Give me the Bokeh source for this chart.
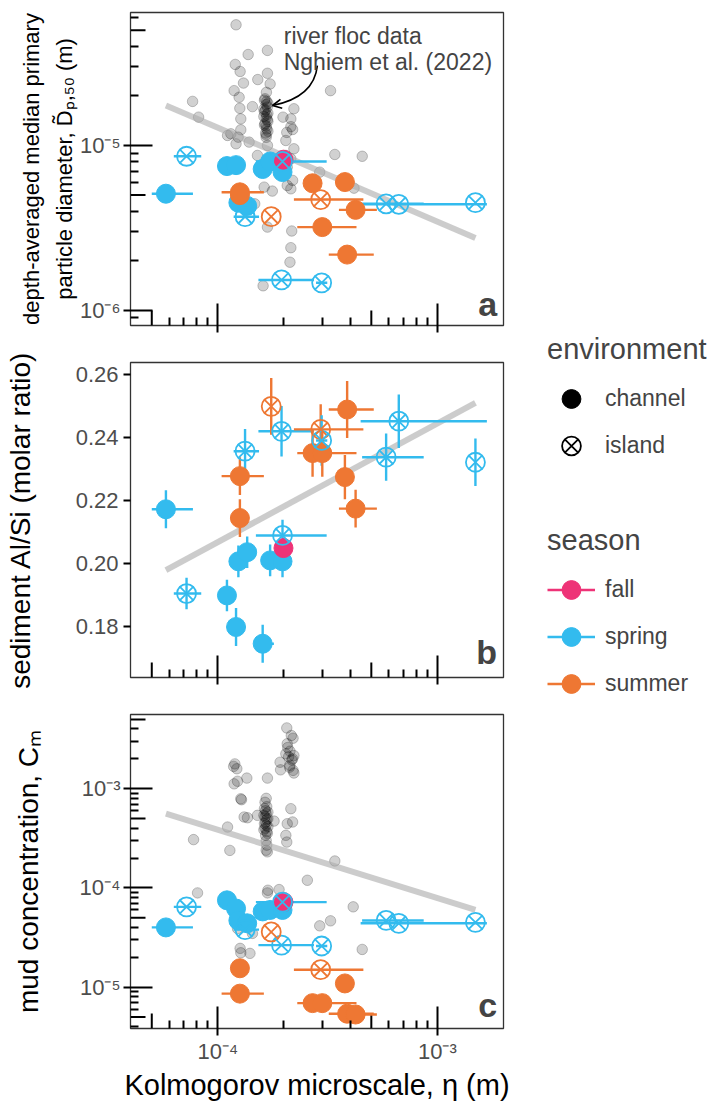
from math import pi
from bokeh.plotting import figure
from bokeh.models import (ColumnDataSource, FixedTicker, Label, LogAxis,
                          Legend, LegendItem, NumeralTickFormatter, Arrow, OpenHead,
                          Range1d, CDSView, GroupFilter, CustomJSTickFormatter)
from bokeh.layouts import row, column
from bokeh.transform import factor_cmap
from bokeh.embed import file_html
from bokeh.resources import INLINE

FONT = "Liberation Sans"

# ---------------- data: samples (this study) ----------------
season = ["spring", "spring", "spring", "spring", "spring", "spring", "spring", "spring", "spring",
          "fall", "spring", "spring", "spring", "summer", "summer", "summer", "summer", "spring",
          "summer", "summer", "summer", "summer", "summer", "spring", "spring", "spring"]
environment = ["channel", "island", "channel", "channel", "channel", "channel", "channel", "channel",
               "channel", "channel", "island", "island", "island", "island", "channel", "channel",
               "island", "island", "channel", "channel", "channel", "channel", "channel", "island",
               "island", "island"]
eta = [5.8e-5, 7.2e-5, 1.1e-4, 1.21e-4, 1.6e-4, 1.24e-4, 1.36e-4, 1.73e-4, 1.97e-4, 1.99e-4,
       1.97e-4, 1.33e-4, 1.95e-4, 1.75e-4, 1.26e-4, 1.26e-4, 2.94e-4, 2.97e-4, 2.7e-4, 2.99e-4,
       3.88e-4, 3.79e-4, 4.24e-4, 5.84e-4, 6.67e-4, 1.49e-3]
eta_lo = [5.0e-5, 6.3e-5, 1.1e-4, 1.21e-4, 1.46e-4, 1.24e-4, 1.36e-4, 1.73e-4, 1.97e-4, 1.99e-4,
          1.49e-4, 1.18e-4, 1.53e-4, 1.75e-4, 1.04e-4, 1.26e-4, 2.22e-4, 2.8e-4, 2.7e-4, 2.3e-4,
          3.2e-4, 3.79e-4, 3.56e-4, 4.54e-4, 4.47e-4, 1.49e-3]
eta_hi = [7.7e-5, 8.4e-5, 1.1e-4, 1.21e-4, 1.8e-4, 1.24e-4, 1.36e-4, 1.73e-4, 1.97e-4, 1.99e-4,
          3.13e-4, 1.54e-4, 2.74e-4, 1.75e-4, 1.62e-4, 1.26e-4, 4.6e-4, 3.15e-4, 2.7e-4, 4.28e-4,
          5.13e-4, 3.79e-4, 5.3e-4, 8.66e-4, 1.68e-3, 1.49e-3]
d_p50 = [5.1e-6, 8.6e-6, 7.5e-6, 7.6e-6, 7.2e-6, 4.5e-6, 4.3e-6, 8.0e-6, 6.9e-6, 8.2e-6,
         8.0e-6, 3.7e-6, 1.53e-6, 3.7e-6, 5.2e-6, 5.0e-6, 4.7e-6, 1.47e-6, 5.9e-6, 3.2e-6,
         2.18e-6, 6.0e-6, 4.07e-6, 4.43e-6, 4.4e-6, 4.5e-6]
al_si = [0.2173, 0.1906, 0.190, 0.180, 0.1747, 0.2008, 0.2037, 0.2011, 0.2008, 0.205,
         0.209, 0.2357, 0.2420, 0.2499, 0.2278, 0.2145, 0.2426, 0.2391, 0.2351, 0.2351,
         0.2489, 0.2275, 0.2175, 0.2338, 0.2452, 0.2322]
al_si_err = [0.006, 0.005, 0.005, 0.006, 0.006, 0.005, 0.005, 0.005, 0.005, 0.003,
             0.005, 0.007, 0.008, 0.009, 0.006, 0.006, 0.008, 0.008, 0.0075, 0.0075,
             0.009, 0.007, 0.006, 0.0075, 0.0085, 0.0075]
c_mud = [4.0e-5, 6.45e-5, 7.5e-5, 6.2e-5, 5.8e-5, 4.7e-5, 4.4e-5, 6.0e-5, 6.0e-5, 7.2e-5,
         7.2e-5, 3.8e-5, 2.65e-5, 3.6e-5, 8.6e-6, 1.55e-5, 1.5e-5, 2.6e-5, 6.9e-6, 6.9e-6,
         5.4e-6, 1.09e-5, 5.3e-6, 4.7e-5, 4.4e-5, 4.5e-5]

# ---------------- data: river floc (Nghiem et al. 2022) ----------------
floc_eta_a = [1.21e-4, 1.374e-4, 1.682e-4, 1.2e-4, 1.263e-4, 1.682e-4, 1.308e-4, 1.52e-4, 1.73e-4,
              1.186e-4, 1.25e-4, 1.664e-4, 3.26e-4, 7.67e-5, 1.259e-4, 1.437e-4, 8.17e-5, 1.272e-4,
              2.22e-4, 1.98e-4, 2.15e-4, 2.15e-4, 1.272e-4, 1.146e-4, 1.107e-4, 1.237e-4, 2.06e-4,
              1.388e-4, 1.21e-4, 1.682e-4, 2.04e-4, 2.22e-4, 1.515e-4, 3.41e-4, 4.545e-4, 2.04e-4,
              2.15e-4, 2.07e-4, 2.91e-4, 2.19e-4, 2.07e-4, 2.15e-4, 1.625e-4, 1.77e-4, 4.17e-4,
              1.472e-4, 1.682e-4, 2.17e-4, 2.15e-4, 2.13e-4, 1.607e-4, 2.19e-4,
              1.64e-4, 1.67e-4, 1.66e-4, 1.68e-4, 1.65e-4, 1.63e-4, 1.67e-4, 1.66e-4, 1.68e-4,
              1.64e-4, 1.66e-4, 1.67e-4, 1.65e-4, 1.66e-4,
              1.63e-4, 1.69e-4, 1.62e-4, 1.69e-4, 1.62e-4, 1.69e-4, 1.63e-4, 1.69e-4, 1.66e-4]
floc_d_a = [5.39e-5, 3.56e-5, 3.77e-5, 3.1e-5, 2.81e-5, 2.74e-5, 2.39e-5, 2.51e-5, 2.36e-5,
            2.15e-5, 1.96e-5, 2.1e-5, 2.15e-5, 1.85e-5, 1.68e-5, 1.72e-5, 1.485e-5, 1.45e-5,
            1.67e-5, 1.485e-5, 1.45e-5, 1.30e-5, 1.245e-5, 1.177e-5, 1.15e-5, 1.123e-5, 1.2e-5,
            1.048e-5, 1.024e-5, 1.0e-5, 1.072e-5, 9.55e-6, 8.7e-6, 8.82e-6, 8.6e-6, 8.7e-6,
            8.3e-6, 7.39e-6, 6.89e-6, 6.14e-6, 5.72e-6, 5.46e-6, 5.59e-6, 5.29e-6, 5.51e-6,
            4.43e-6, 3.2e-6, 3.03e-6, 2.4e-6, 1.96e-6, 1.41e-6, 1.25e-5,
            1.92e-5, 1.85e-5, 1.77e-5, 1.71e-5, 1.64e-5, 1.6e-5, 1.53e-5, 1.47e-5, 1.43e-5,
            1.36e-5, 1.31e-5, 1.26e-5, 1.19e-5, 1.12e-5,
            1.88e-5, 1.8e-5, 1.66e-5, 1.57e-5, 1.5e-5, 1.4e-5, 1.33e-5, 1.22e-5, 1.16e-5]
floc_eta_c = [2.06e-4, 2.16e-4, 2.2e-4, 2.07e-4, 2.13e-4, 2.04e-4, 2.22e-4, 2.19e-4, 1.92e-4,
              2.13e-4, 1.93e-4, 2.2e-4, 2.22e-4, 1.195e-4, 1.18e-4, 1.22e-4, 1.186e-4, 1.229e-4,
              1.355e-4, 1.682e-4, 1.272e-4, 1.281e-4, 1.317e-4, 1.364e-4, 1.515e-4, 1.803e-4,
              2.15e-4, 2.07e-4, 2.19e-4, 2.04e-4, 2.06e-4, 1.107e-4, 7.75e-5, 1.134e-4,
              1.66e-4, 1.64e-4, 1.67e-4, 1.65e-4, 1.66e-4, 1.64e-4, 1.67e-4, 1.65e-4, 1.66e-4,
              1.64e-4, 1.67e-4, 1.65e-4, 1.66e-4, 1.67e-4, 1.66e-4, 1.68e-4,
              3.41e-4, 2.556e-4, 1.69e-4, 1.682e-4, 1.9e-4, 8.08e-5, 4.135e-4, 2.91e-4, 3.26e-4,
              4.545e-4, 1.263e-4, 1.272e-4, 1.4e-4, 1.229e-4, 1.437e-4,
              1.63e-4, 1.69e-4, 1.62e-4, 1.69e-4, 1.63e-4, 1.69e-4, 1.62e-4, 1.68e-4,
              2.1e-4, 2.17e-4, 2.08e-4, 2.12e-4]
floc_c = [4.1e-3, 3.44e-3, 3.23e-3, 2.84e-3, 2.39e-3, 2.25e-3, 2.16e-3, 2.0e-3, 1.85e-3,
          1.72e-3, 1.55e-3, 1.53e-3, 1.44e-3, 1.78e-3, 1.68e-3, 1.59e-3, 1.12e-3, 1.19e-3,
          1.28e-3, 1.28e-3, 7.93e-4, 7.75e-4, 5.19e-4, 5.1e-4, 5.39e-4, 4.72e-4,
          6.29e-4, 4.44e-4, 4.62e-4, 3.39e-4, 2.9e-4, 4.11e-4, 3.07e-4, 2.39e-4,
          8.0e-4, 7.3e-4, 6.6e-4, 6.0e-4, 5.6e-4, 5.2e-4, 4.9e-4, 4.6e-4, 4.3e-4,
          4.0e-4, 3.7e-4, 3.4e-4, 3.0e-4, 2.7e-4, 2.4e-4, 2.31e-4,
          1.87e-4, 1.195e-4, 9.48e-5, 8.91e-5, 9.63e-5, 8.91e-5, 6.45e-5, 4.15e-5, 4.66e-5,
          2.4e-5, 2.46e-5, 2.22e-5, 2.19e-5, 3.9e-5, 3.48e-5,
          6.3e-4, 5.8e-4, 5.4e-4, 5.0e-4, 4.45e-4, 4.15e-4, 3.85e-4, 3.55e-4,
          2.1e-3, 1.95e-3, 2.6e-3, 1.65e-3]

# ---------------- data: regression lines ----------------
fit_eta = [5.8e-5, 1.49e-3]
fit_d = [1.75e-5, 2.75e-6]
fit_alsi = [0.198, 0.251]
fit_c = [5.6e-4, 6.0e-5]

# ---------------- ticks ----------------
x_decades = [1e-4, 1e-3]
x_mids = [5e-5, 5e-4]
x_minors = [6e-5, 7e-5, 8e-5, 9e-5, 2e-4, 3e-4, 4e-4, 6e-4, 7e-4, 8e-4, 9e-4]
a_decades = [1e-6, 1e-5]
a_mids = [5e-6, 5e-5]
a_minors = [9e-7, 2e-6, 3e-6, 4e-6, 6e-6, 7e-6, 8e-6, 9e-6, 2e-5, 3e-5, 4e-5, 6e-5]
b_ticks = [0.18, 0.20, 0.22, 0.24, 0.26]
c_decades = [1e-5, 1e-4, 1e-3]
c_mids = [5e-6, 5e-5, 5e-4, 5e-3]
c_minors = [4e-6, 6e-6, 7e-6, 8e-6, 9e-6, 2e-5, 3e-5, 4e-5, 6e-5, 7e-5, 8e-5, 9e-5,
            2e-4, 3e-4, 4e-4, 6e-4, 7e-4, 8e-4, 9e-4, 2e-3, 3e-3, 4e-3]

seasons = ["fall", "spring", "summer"]
season_colors = ["#EE3377", "#33BBEE", "#EE7733"]

X_RANGE = (4e-5, 2e-3)
A_RANGE = (8.1e-7, 6.4e-5)
B_RANGE = (0.164, 0.2638)
C_RANGE = (3.83e-6, 5.6e-3)

POW10_JS = """
const sup = {"0": "\u2070", "1": "\u00b9", "2": "\u00b2", "3": "\u00b3", "4": "\u2074",
             "5": "\u2075", "6": "\u2076", "7": "\u2077", "8": "\u2078", "9": "\u2079",
             "-": "\u207b"};
const e = Math.round(Math.log10(tick));
return "10" + String(e).split("").map((c) => sup[c]).join("");
"""
BLANK_JS = "return '';"

src = ColumnDataSource(dict(eta=eta, eta_lo=eta_lo, eta_hi=eta_hi, d=d_p50, alsi=al_si,
                            alsi_lo=[v - e for v, e in zip(al_si, al_si_err)],
                            alsi_hi=[v + e for v, e in zip(al_si, al_si_err)],
                            c=c_mud, season=season, env=environment))
cmap = factor_cmap("season", season_colors, seasons)
ch_view = CDSView(filter=GroupFilter(column_name="env", group="channel"))
is_view = CDSView(filter=GroupFilter(column_name="env", group="island"))


def style_axis(ax):
    ax.axis_line_color = None
    ax.major_tick_line_color = "black"
    ax.major_tick_line_width = 2
    ax.minor_tick_line_color = "black"
    ax.minor_tick_line_width = 2
    ax.major_label_text_font = FONT
    ax.major_label_text_font_size = "22px"
    ax.major_label_text_color = "#4d4d4d"
    ax.axis_label_text_font = FONT
    ax.axis_label_text_font_style = "normal"
    ax.axis_label_text_color = "black"


def base_fig(height, y_type, y_range, border_bottom):
    p = figure(width=520, height=height, x_axis_type="log", y_axis_type=y_type,
               x_range=Range1d(*X_RANGE), y_range=Range1d(*y_range),
               toolbar_location=None, output_backend="svg",
               min_border_left=130, min_border_right=17, min_border_top=12,
               min_border_bottom=border_bottom)
    p.grid.visible = False
    p.outline_line_color = "#333333"
    p.outline_line_width = 1.3
    for ax in p.axis:
        style_axis(ax)
    return p


def log_axis_ticks(p, ax, dim, decades, mids, minors, edge, labels=True):
    ax.ticker = FixedTicker(ticks=decades, minor_ticks=minors)
    ax.formatter = CustomJSTickFormatter(code=POW10_JS if labels else BLANK_JS)
    if not labels:
        ax.major_label_text_font_size = "2px"
        ax.major_label_standoff = 0
    else:
        ax.major_label_standoff = 3
    ax.major_tick_in = 22
    ax.major_tick_out = 7
    ax.minor_tick_in = 8
    ax.minor_tick_out = 0
    # medium-length log ticks at the 5x positions, starting at the frame edge
    if dim == "x":
        p.ray(x=mids, y=[edge] * len(mids), length=15, length_units="screen",
              angle=pi / 2, line_color="black", line_width=2)
    else:
        p.ray(x=[edge] * len(mids), y=mids, length=15, length_units="screen",
              angle=0, line_color="black", line_width=2)


def add_points(p, ycol, yerr=False):
    p.segment(x0="eta_lo", y0=ycol, x1="eta_hi", y1=ycol, source=src, color=cmap, line_width=2.4)
    if yerr:
        p.segment(x0="eta", y0="alsi_lo", x1="eta", y1="alsi_hi", source=src, color=cmap,
                  line_width=2.4)
    p.scatter(x="eta", y=ycol, source=src, view=ch_view, marker="circle", size=19,
              fill_color=cmap, line_color=cmap)
    p.scatter(x="eta", y=ycol, source=src, view=is_view, marker="circle", size=19,
              fill_color=None, line_color=cmap, line_width=1.8)
    p.scatter(x="eta", y=ycol, source=src, view=is_view, marker="x", size=20,
              line_color=cmap, line_width=1.8)


def floc(p, xs, ys):
    p.scatter(xs, ys, marker="circle", size=10.5, fill_color="black", fill_alpha=0.18,
              line_color="black", line_alpha=0.22, line_width=1)


def panel_letter(p, x, y, txt):
    p.add_layout(Label(x=x, y=y, text=txt, text_font=FONT, text_font_size="34px",
                       text_font_style="bold", text_align="right", text_baseline="alphabetic"))


# ---------------- panel a ----------------
pa = base_fig(350, "log", A_RANGE, 25)
log_axis_ticks(pa, pa.xaxis[0], "x", x_decades, x_mids, x_minors, A_RANGE[0], labels=False)
log_axis_ticks(pa, pa.yaxis[0], "y", a_decades, a_mids, a_minors, X_RANGE[0])
pa.yaxis[0].axis_label = "particle diameter, D\u0303\u209a,\u2085\u2080 (m)"
pa.yaxis[0].axis_label_text_font_size = "22px"
pa.yaxis[0].axis_label_standoff = 0
ya_outer = LogAxis(ticker=FixedTicker(ticks=[], minor_ticks=[]),
                   axis_label="depth-averaged median primary")
style_axis(ya_outer)
ya_outer.major_tick_in = 0
ya_outer.major_tick_out = 0
ya_outer.minor_tick_in = 0
ya_outer.minor_tick_out = 0
ya_outer.major_label_standoff = 0
ya_outer.axis_label_standoff = 5
ya_outer.axis_label_text_font_size = "22px"
pa.add_layout(ya_outer, "left")
floc(pa, floc_eta_a, floc_d_a)
pa.line(fit_eta, fit_d, line_width=6, line_color="#aaaaaa", line_alpha=0.6)
add_points(pa, "d")
pa.add_layout(Label(x=1.995e-4, y=4.64e-5, text="river floc data", text_font=FONT,
                    text_font_size="23px", text_baseline="alphabetic"))
pa.add_layout(Label(x=1.995e-4, y=3.2e-5, text="Nghiem et al. (2022)", text_font=FONT,
                    text_font_size="23px", text_baseline="alphabetic"))
pa.quadratic(x0=[2.84e-4], y0=[3.05e-5], x1=[1.774e-4], y1=[1.747e-5], cx=[2.74e-4],
             cy=[1.96e-5], line_color="black", line_width=1.6)
pa.add_layout(Arrow(end=OpenHead(size=9, line_width=1.6, line_color="black"),
                    x_start=2.2e-4, y_start=1.85e-5, x_end=1.774e-4, y_end=1.747e-5,
                    line_alpha=0))
panel_letter(pa, 1.87e-3, 1.1e-6, "a")

# ---------------- panel b ----------------
pb = base_fig(352, "linear", B_RANGE, 25)
log_axis_ticks(pb, pb.xaxis[0], "x", x_decades, x_mids, x_minors, B_RANGE[0], labels=False)
yb = pb.yaxis[0]
yb.ticker = FixedTicker(ticks=b_ticks, minor_ticks=[])
yb.formatter = NumeralTickFormatter(format="0.00")
yb.major_tick_in = 0
yb.major_tick_out = 7
yb.minor_tick_in = 0
yb.minor_tick_out = 0
yb.axis_label = "sediment Al/Si (molar ratio)"
yb.axis_label_text_font_size = "28px"
yb.axis_label_standoff = 37
pb.line(fit_eta, fit_alsi, line_width=6, line_color="#aaaaaa", line_alpha=0.6)
add_points(pb, "alsi", yerr=True)
panel_letter(pb, 1.87e-3, 0.172, "b")

# ---------------- panel c ----------------
pc = base_fig(403, "log", C_RANGE, 77)
log_axis_ticks(pc, pc.xaxis[0], "x", x_decades, x_mids, x_minors, C_RANGE[0])
log_axis_ticks(pc, pc.yaxis[0], "y", c_decades, c_mids, c_minors, X_RANGE[0])
pc.yaxis[0].axis_label = "mud concentration, C\u2098"
pc.yaxis[0].axis_label_text_font_size = "28px"
pc.yaxis[0].axis_label_standoff = 33
pc.xaxis[0].axis_label = "Kolmogorov microscale, \u03b7 (m)"
pc.xaxis[0].axis_label_text_font_size = "29px"
pc.xaxis[0].axis_label_standoff = 2
floc(pc, floc_eta_c, floc_c)
pc.line(fit_eta, fit_c, line_width=6, line_color="#aaaaaa", line_alpha=0.6)
add_points(pc, "c")
panel_letter(pc, 1.87e-3, 6.55e-6, "c")

# ---------------- legend figure ----------------
pl = figure(width=192, height=1105, toolbar_location=None, output_backend="svg",
            x_range=(0, 1), y_range=(0, 1), min_border=0)
pl.axis.visible = False
pl.grid.visible = False
pl.outline_line_color = None

# legend-only renderers: one point each, placed outside the visible range
OFF = [-5]
r_ch = pl.scatter(OFF, OFF, marker="circle", size=19, color="black")
r_is_c = pl.scatter(OFF, OFF, marker="circle", size=19, fill_color=None, line_color="black",
                    line_width=1.8)
r_is_x = pl.scatter(OFF, OFF, marker="x", size=20, line_color="black", line_width=1.8)
season_items = []
for s, col in zip(seasons, season_colors):
    rl = pl.line([-5, -4], [-5, -4], line_color=col, line_width=2.4)
    rs = pl.scatter(OFF, OFF, marker="circle", size=19, color=col)
    season_items.append(LegendItem(label=s, renderers=[rl, rs]))


def style_legend(leg):
    leg.title_text_font = FONT
    leg.title_text_font_size = "29px"
    leg.title_text_font_style = "normal"
    leg.label_text_font = FONT
    leg.label_text_font_size = "23px"
    leg.glyph_width = 48
    leg.glyph_height = 47
    leg.label_standoff = 10
    leg.spacing = 0
    leg.padding = 0
    leg.margin = 0
    leg.title_standoff = 9
    leg.border_line_color = None
    leg.background_fill_alpha = 0


leg1 = Legend(items=[LegendItem(label="channel", renderers=[r_ch]),
                     LegendItem(label="island", renderers=[r_is_c, r_is_x])],
              title="environment", location=(27, 636))
leg2 = Legend(items=season_items, title="season", location=(27, 398))
style_legend(leg1)
style_legend(leg2)
pl.add_layout(leg1)
pl.add_layout(leg2)

layout = row(column(pa, pb, pc), pl)
open("out.html", "w").write(file_html(layout, INLINE))
